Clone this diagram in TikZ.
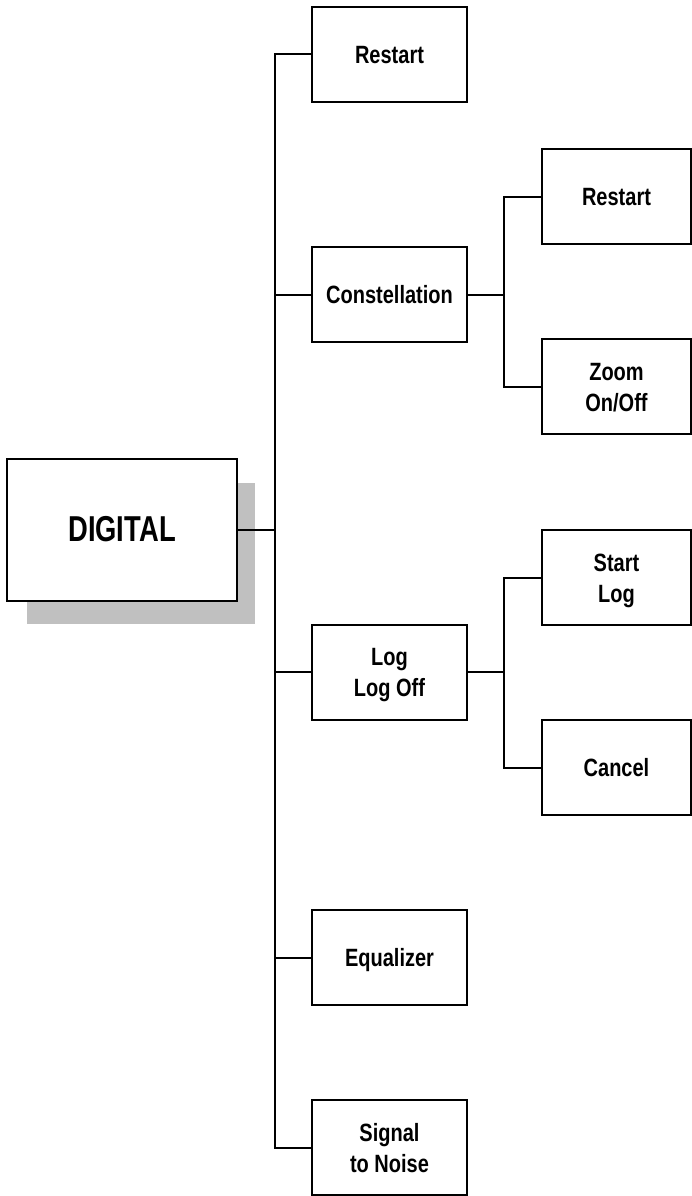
\documentclass[tikz,border=0pt]{standalone}
\usepackage{fontspec}
\setmainfont{Liberation Sans}
\definecolor{shadowgray}{HTML}{C0C0C0}
\newcommand{\boxtxt}[2][0.8]{\raisebox{-3pt}[\height][\depth]{\scalebox{#1}[1]{\begin{tabular}{@{}c@{}}#2\end{tabular}}}}
\begin{document}
\begin{tikzpicture}[x=1pt,y=-1pt,
  menubox/.style={draw=black, line width=2pt, fill=white, rectangle, inner sep=0pt,
    minimum width=155pt, minimum height=95pt,
    font=\fontsize{25}{31}\selectfont\bfseries},
  subbox/.style={menubox, minimum width=149pt},
  link/.style={draw=black, line width=2pt, line cap=rect}]
\useasboundingbox (0,0) rectangle (692,1196);
% shadow of DIGITAL
\fill[shadowgray] (27,483) rectangle (255,624);
\node[menubox, minimum width=230pt, minimum height=142pt,
  font=\fontsize{36}{40}\selectfont\bfseries] (digital) at (122,530) {\boxtxt[0.76]{DIGITAL}};
% level 1
\node[menubox] (restart) at (389.5,54.5) {\boxtxt{Restart}};
\node[menubox] (const) at (389.5,294.5) {\boxtxt{Constellation}};
\node[menubox] (log) at (389.5,672) {\boxtxt{Log\\Log Off}};
\node[menubox] (equal) at (389.5,957.5) {\boxtxt{Equalizer}};
\node[menubox] (signal) at (389.5,1147.5) {\boxtxt{Signal\\to Noise}};
% level 2
\node[subbox] (restart2) at (616.5,196.5) {\boxtxt{Restart}};
\node[subbox] (zoom) at (616.5,386.5) {\boxtxt{Zoom\\On/Off}};
\node[subbox] (startlog) at (616.5,577.5) {\boxtxt{Start\\Log}};
\node[subbox] (cancel) at (616.5,767.5) {\boxtxt{Cancel}};
% trunks
\coordinate (trunk) at (275,0);
\coordinate (subtrunk) at (504,0);
\draw[link] (digital.east) -- (digital.east -| trunk);
\draw[link] (restart.west -| trunk) -- (signal.west -| trunk);
\foreach \n in {restart,const,log,equal,signal}
  \draw[link] (\n.west) -- (\n.west -| trunk);
% constellation branch
\draw[link] (const.east) -- (const.east -| subtrunk);
\draw[link] (restart2.west -| subtrunk) -- (zoom.west -| subtrunk);
\draw[link] (restart2.west) -- (restart2.west -| subtrunk);
\draw[link] (zoom.west) -- (zoom.west -| subtrunk);
% log branch
\draw[link] (log.east) -- (log.east -| subtrunk);
\draw[link] (startlog.west -| subtrunk) -- (cancel.west -| subtrunk);
\draw[link] (startlog.west) -- (startlog.west -| subtrunk);
\draw[link] (cancel.west) -- (cancel.west -| subtrunk);
\end{tikzpicture}
\end{document}
